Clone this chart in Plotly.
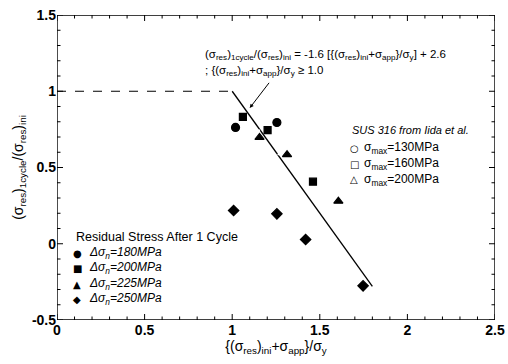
import plotly.graph_objects as go

# ---- data ----
# SUS 316 from Iida et al. (open symbols)
iida130_x = [1.015]
iida130_y = [0.871]
iida160_x = [1.133]
iida160_y = [0.719]
iida200_x = [1.290]
iida200_y = [0.599]
# Residual stress after 1 cycle (filled symbols)
d180_x = [1.019, 1.255]
d180_y = [0.763, 0.795]
d200_x = [1.061, 1.202, 1.461]
d200_y = [0.832, 0.745, 0.407]
d225_x = [1.156, 1.313, 1.606]
d225_y = [0.697, 0.584, 0.279]
d250_x = [1.008, 1.255, 1.419, 1.747]
d250_y = [0.218, 0.196, 0.028, -0.276]
# model line
flat_x = [0.0, 1.0]
flat_y = [1.0, 1.0]
slope, intercept = -1.6, 2.6
fit_x = [1.0, 1.8]
fit_y = [slope * v + intercept for v in fit_x]

x_range = [0, 2.5]
y_range = [-0.5, 1.5]
x_ticks = [0, 0.5, 1, 1.5, 2, 2.5]
x_ticklabels = ["0", "0.5", "1", "1.5", "2", "2.5"]
x_minor = [i / 10 for i in range(0, 26) if i % 5]
y_ticks = [-0.5, 0, 0.5, 1, 1.5]
y_ticklabels = ["-0.5", "0", "0.5", "1", "1.5"]
y_minor = [i / 10 for i in range(-5, 16) if i % 5]

FONT = "Liberation Sans, Arial, Helvetica, sans-serif"
W, H = 508, 364
ML, MR, MT, MB = 57, 13, 15, 44
PW, PH = W - ML - MR, H - MT - MB
# data units per pixel
UX = (x_range[1] - x_range[0]) / PW
UY = (y_range[1] - y_range[0]) / PH


def px(x):
    return (x - ML) / PW


def py(y):
    return (H - MB - y) / PH


fig = go.Figure()

# frame and inside tick marks on all four sides, built from the axis ranges / tick lists
tx, ty = [], []
for vals, ln in [(x_ticks, 6), (x_minor, 3.5)]:
    for v in vals:
        tx += [v, v, None, v, v, None]
        ty += [y_range[0], y_range[0] + ln * UY, None, y_range[1], y_range[1] - ln * UY, None]
for vals, ln in [(y_ticks, 6), (y_minor, 3.5)]:
    for v in vals:
        ty += [v, v, None, v, v, None]
        tx += [x_range[0], x_range[0] + ln * UX, None, x_range[1], x_range[1] - ln * UX, None]
fig.add_trace(go.Scatter(x=tx, y=ty, mode="lines", line=dict(color="black", width=1),
                         showlegend=False, hoverinfo="skip", cliponaxis=False))
fig.add_trace(go.Scatter(x=[x_range[0], x_range[1], x_range[1], x_range[0], x_range[0]],
                         y=[y_range[0], y_range[0], y_range[1], y_range[1], y_range[0]],
                         mode="lines", line=dict(color="black", width=1.4),
                         showlegend=False, hoverinfo="skip", cliponaxis=False))

fig.add_trace(go.Scatter(x=flat_x, y=flat_y, mode="lines",
                         line=dict(color="black", width=1.2, dash="dash"), showlegend=False))
fig.add_trace(go.Scatter(x=fit_x, y=fit_y, mode="lines",
                         line=dict(color="black", width=1.3), showlegend=False))


def pts(xs, ys, symbol, size, filled=True):
    fig.add_trace(go.Scatter(
        x=xs, y=ys, mode="markers", showlegend=False,
        marker=dict(symbol=symbol, size=size,
                    color="black" if filled else "white",
                    line=dict(color="black", width=1.2))))


pts(iida130_x, iida130_y, "circle-open", 8, filled=False)
pts(iida160_x, iida160_y, "square-open", 8, filled=False)
pts(iida200_x, iida200_y, "triangle-up-open", 9, filled=False)
pts(d180_x, d180_y, "circle", 8)
pts(d200_x, d200_y, "square", 7)
pts(d225_x, d225_y, "triangle-up", 8)
pts(d250_x, d250_y, "diamond", 8)

ann = []
# arrow to the line
ann.append(dict(x=1.10, y=0.89, ax=1.217, ay=1.065, xref="x", yref="y",
                axref="x", ayref="y", text="", showarrow=True,
                arrowhead=2, arrowsize=0.8, arrowwidth=1, arrowcolor="black"))
# equation
ann.append(dict(x=px(203), y=py(55), xref="paper", yref="paper", xanchor="left",
                yanchor="middle", showarrow=False,
                text="(σ<sub>res</sub>)<sub>1cycle</sub>/(σ<sub>res</sub>)<sub>ini</sub> = -1.6 "
                     "[{(σ<sub>res</sub>)<sub>ini</sub>+σ<sub>app</sub>}/σ<sub>y</sub>] + 2.6",
                font=dict(family=FONT, size=11.5, color="black")))
ann.append(dict(x=px(203), y=py(71), xref="paper", yref="paper", xanchor="left",
                yanchor="middle", showarrow=False,
                text="; {(σ<sub>res</sub>)<sub>ini</sub>+σ<sub>app</sub>}/σ<sub>y</sub> ≥ 1.0",
                font=dict(family=FONT, size=11.5, color="black")))

# right legend
ann.append(dict(x=px(350), y=py(130), xref="paper", yref="paper", xanchor="left",
                yanchor="middle", showarrow=False, text="<i>SUS 316 from Iida et al.</i>",
                font=dict(family=FONT, size=11, color="black")))
right_items = [("○", "σ<sub>max</sub>=130MPa", 148), ("□", "σ<sub>max</sub>=160MPa", 164),
               ("△", "σ<sub>max</sub>=200MPa", 180)]
for sym, txt, yy in right_items:
    ann.append(dict(x=px(354), y=py(yy), xref="paper", yref="paper", xanchor="center",
                    yanchor="middle", showarrow=False, text=sym,
                    font=dict(family="DejaVu Sans", size=10, color="black")))
    ann.append(dict(x=px(362), y=py(yy), xref="paper", yref="paper", xanchor="left",
                    yanchor="middle", showarrow=False, text=txt,
                    font=dict(family=FONT, size=12, color="black")))

# left legend
ann.append(dict(x=px(74), y=py(237), xref="paper", yref="paper", xanchor="left",
                yanchor="middle", showarrow=False, text="Residual Stress After 1 Cycle",
                font=dict(family=FONT, size=12.5, color="black")))
left_items = [("●", "180", 253), ("■", "200", 268), ("▲", "225", 284), ("◆", "250", 299)]
for sym, val, yy in left_items:
    ann.append(dict(x=px(77), y=py(yy), xref="paper", yref="paper", xanchor="center",
                    yanchor="middle", showarrow=False, text=sym,
                    font=dict(family="DejaVu Sans", size=10, color="black")))
    ann.append(dict(x=px(87), y=py(yy), xref="paper", yref="paper", xanchor="left",
                    yanchor="middle", showarrow=False,
                    text="<i>Δσ<sub>n</sub>=" + val + "MPa</i>",
                    font=dict(family=FONT, size=12, color="black")))

axis_common = dict(showgrid=False, zeroline=False, showline=False, ticks="",
                   tickfont=dict(family=FONT, size=14, color="black"))

fig.update_layout(
    width=W, height=H, margin=dict(l=ML, r=MR, t=MT, b=MB, autoexpand=False),
    paper_bgcolor="white", plot_bgcolor="white", showlegend=False,
    annotations=ann,
    xaxis=dict(range=x_range, tickmode="array", tickvals=x_ticks,
               ticktext=["<b>" + t + "</b>" for t in x_ticklabels],
               title=dict(text="{(σ<sub>res</sub>)<sub>ini</sub>+σ<sub>app</sub>}/σ<sub>y</sub>",
                          font=dict(family=FONT, size=14, color="black"), standoff=4),
               **axis_common),
    yaxis=dict(range=y_range, tickmode="array", tickvals=y_ticks,
               ticktext=["<b>" + t + "</b>" for t in y_ticklabels],
               title=dict(text="(σ<sub>res</sub>)<sub>1cycle</sub>/(σ<sub>res</sub>)<sub>ini</sub>",
                          font=dict(family=FONT, size=14, color="black"), standoff=4),
               **axis_common),
)

fig.write_html("out.html", config={"displayModeBar": False},
               post_script="document.body.style.margin='0';document.body.style.overflow='hidden';")
